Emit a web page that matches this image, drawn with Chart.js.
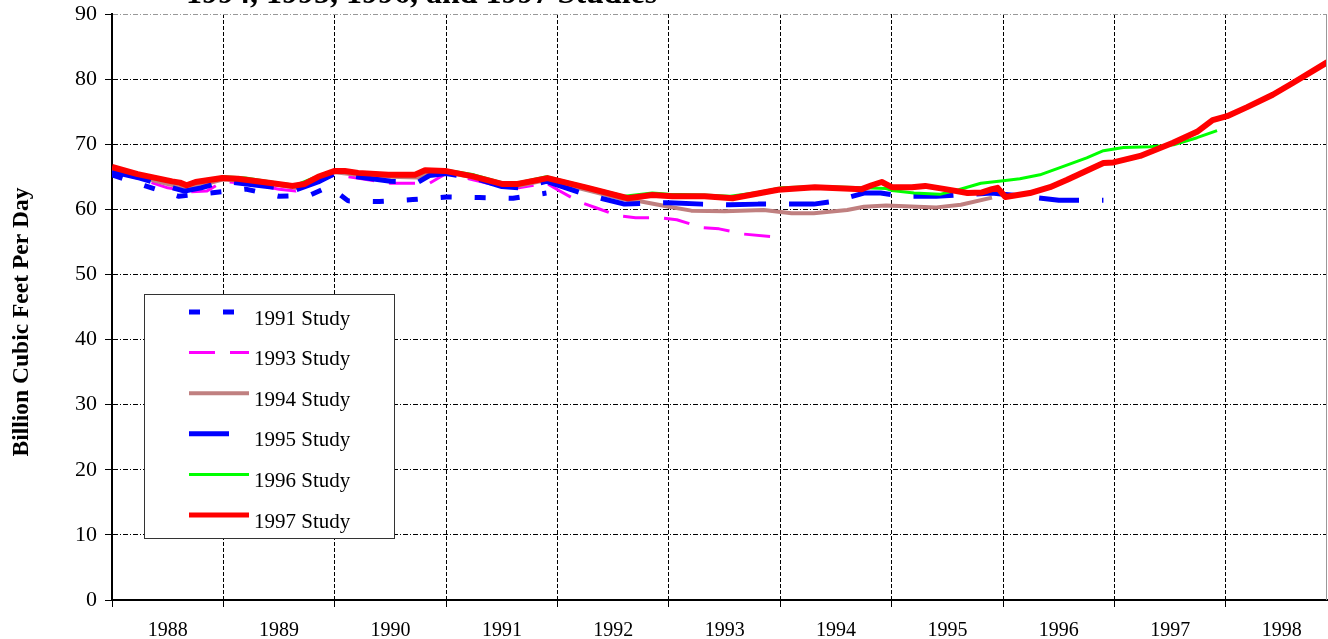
<!DOCTYPE html>
<html>
<head>
<meta charset="utf-8">
<script src="https://cdn.jsdelivr.net/npm/chart.js@4.4.1/dist/chart.umd.min.js"></script>
<style>
  html, body { margin: 0; padding: 0; background: #fff; overflow: hidden; }
  canvas { display: block; }
</style>
</head>
<body>
<canvas id="chart" width="1328" height="639"></canvas>
<script>
// Values (decimal year, Bcf/d).
const yearTicks = [1988, 1989, 1990, 1991, 1992, 1993, 1994, 1995, 1996, 1997, 1998];
const studyNames = ['1991 Study', '1993 Study', '1994 Study', '1995 Study', '1996 Study', '1997 Study'];

const study1991Years = [1988.0, 1988.3, 1988.6, 1988.82, 1989.2, 1989.5, 1989.78, 1989.95, 1990.12, 1990.4, 1990.7, 1991.0, 1991.3, 1991.6, 1991.9];
const study1991Values = [65.3, 63.6, 62.0, 62.4, 63.1, 62.0, 62.2, 63.5, 61.3, 61.2, 61.5, 61.9, 61.8, 61.7, 62.5];

const study1993Years = [1988.0, 1988.25, 1988.5, 1988.7, 1988.85, 1989.0, 1989.2, 1989.5, 1989.65, 1989.85, 1990.0, 1990.2, 1990.5, 1990.75, 1990.85, 1991.0, 1991.25, 1991.5, 1991.65, 1991.9, 1992.0, 1992.2, 1992.35, 1992.55, 1992.7, 1992.92, 1993.07, 1993.3, 1993.45, 1993.67, 1993.92];
const study1993Values = [65.8, 64.7, 63.3, 62.7, 62.8, 64.3, 64.0, 63.1, 62.8, 64.3, 65.3, 64.8, 64.0, 64.0, 64.0, 65.5, 64.5, 63.5, 63.3, 64.0, 63.0, 61.1, 60.2, 59.0, 58.7, 58.7, 58.4, 57.2, 57.0, 56.2, 55.8];

const study1994Years = [1988.0, 1988.25, 1988.5, 1988.65, 1988.8, 1989.0, 1989.2, 1989.5, 1989.65, 1989.85, 1990.0, 1990.2, 1990.5, 1990.75, 1990.85, 1991.0, 1991.25, 1991.5, 1991.65, 1991.9, 1992.25, 1992.6, 1992.75, 1993.0, 1993.2, 1993.5, 1993.85, 1994.1, 1994.3, 1994.6, 1994.75, 1994.95, 1995.4, 1995.62, 1995.9];
const study1994Values = [66.0, 65.0, 63.9, 63.4, 63.7, 64.6, 64.4, 63.7, 63.3, 64.7, 65.7, 65.3, 65.0, 64.9, 65.6, 65.7, 64.9, 63.7, 63.6, 64.5, 63.0, 61.5, 61.2, 60.4, 59.8, 59.7, 59.9, 59.4, 59.4, 59.9, 60.4, 60.6, 60.3, 60.7, 61.8];

const study1995Years = [1988.0, 1988.25, 1988.5, 1988.65, 1988.8, 1989.0, 1989.5, 1989.65, 1989.85, 1990.0, 1990.2, 1990.5, 1990.75, 1990.85, 1991.0, 1991.25, 1991.5, 1991.65, 1991.9, 1992.25, 1992.6, 1992.85, 1993.0, 1993.3, 1993.55, 1993.8, 1994.0, 1994.3, 1994.5, 1994.75, 1994.9, 1995.1, 1995.4, 1995.6, 1995.9, 1996.0, 1996.25, 1996.5, 1996.9];
const study1995Values = [65.8, 64.8, 63.5, 62.8, 63.3, 64.3, 63.3, 63.0, 64.2, 65.5, 65.0, 64.3, 64.2, 65.2, 65.5, 64.8, 63.5, 63.3, 64.3, 62.3, 60.8, 61.0, 61.0, 60.8, 60.7, 60.8, 60.8, 60.8, 61.3, 62.5, 62.5, 62.0, 62.0, 62.2, 62.5, 62.3, 61.9, 61.4, 61.4];

const study1996Years = [1988.0, 1988.25, 1988.5, 1988.65, 1988.8, 1989.0, 1989.2, 1989.5, 1989.65, 1989.85, 1990.0, 1990.2, 1990.5, 1990.75, 1990.85, 1991.0, 1991.25, 1991.5, 1991.65, 1991.9, 1992.25, 1992.6, 1992.85, 1993.0, 1993.3, 1993.55, 1993.8, 1994.0, 1994.35, 1994.75, 1994.95, 1995.0, 1995.2, 1995.43, 1995.6, 1995.8, 1996.0, 1996.15, 1996.33, 1996.51, 1996.75, 1996.9, 1997.08, 1997.32, 1997.53, 1997.74, 1997.92];
const study1996Values = [66.3, 65.3, 64.3, 63.8, 64.3, 65.0, 64.8, 64.0, 63.7, 65.1, 66.0, 65.7, 65.4, 65.4, 66.1, 66.0, 65.3, 64.1, 64.1, 65.0, 63.5, 62.0, 62.5, 62.3, 62.2, 62.0, 62.6, 63.3, 63.5, 63.3, 63.2, 62.9, 62.5, 62.3, 63.0, 64.0, 64.4, 64.7, 65.3, 66.4, 67.9, 69.0, 69.5, 69.6, 69.9, 71.0, 72.1];

const study1997Years = [1988.0, 1988.23, 1988.54, 1988.61, 1988.67, 1988.75, 1988.99, 1989.13, 1989.44, 1989.62, 1989.73, 1989.85, 1990.0, 1990.09, 1990.21, 1990.48, 1990.72, 1990.81, 1990.99, 1991.23, 1991.5, 1991.64, 1991.91, 1992.27, 1992.63, 1992.85, 1993.03, 1993.32, 1993.57, 1993.98, 1994.31, 1994.73, 1994.82, 1994.91, 1995.0, 1995.18, 1995.3, 1995.48, 1995.68, 1995.81, 1995.9, 1995.95, 1996.02, 1996.24, 1996.42, 1996.57, 1996.72, 1996.9, 1996.99, 1997.23, 1997.52, 1997.74, 1997.88, 1998.01, 1998.19, 1998.42, 1998.6, 1998.91];
const study1997Values = [66.5, 65.4, 64.3, 64.1, 63.7, 64.2, 64.8, 64.7, 64.0, 63.6, 63.9, 65.0, 65.9, 65.9, 65.6, 65.3, 65.3, 66.0, 65.9, 65.1, 63.9, 63.9, 64.8, 63.3, 61.7, 62.2, 62.0, 62.0, 61.7, 63.0, 63.4, 63.1, 63.7, 64.2, 63.4, 63.4, 63.6, 63.1, 62.5, 62.6, 63.1, 63.3, 61.9, 62.5, 63.4, 64.5, 65.7, 67.1, 67.2, 68.2, 70.2, 71.9, 73.7, 74.3, 75.7, 77.6, 79.4, 82.6];

const SERIF = '"Liberation Serif", "Times New Roman", "DejaVu Serif", serif';

function points(xs, ys) { return xs.map((x, i) => ({ x: x, y: ys[i] })); }

// order: lower number is painted on top
const datasets = [
  { label: studyNames[0], data: points(study1991Years, study1991Values), borderColor: '#0000ff', borderWidth: 5, borderDash: [11, 23], order: 5 },
  { label: studyNames[1], data: points(study1993Years, study1993Values), borderColor: '#ff00ff', borderWidth: 3, borderDash: [26, 15], order: 4 },
  { label: studyNames[2], data: points(study1994Years, study1994Values), borderColor: '#c08080', borderWidth: 4, order: 3 },
  { label: studyNames[3], data: points(study1995Years, study1995Values), borderColor: '#0000ff', borderWidth: 5, borderDash: [40, 23], order: 2 },
  { label: studyNames[4], data: points(study1996Years, study1996Values), borderColor: '#00ff00', borderWidth: 3, order: 1 },
  { label: studyNames[5], data: points(study1997Years, study1997Values), borderColor: '#ff0000', borderWidth: 6, order: 0 }
].map(d => Object.assign({ pointRadius: 0, tension: 0, fill: false, borderCapStyle: 'butt', borderJoinStyle: 'round' }, d));

// Legend box inside the plot, like the original.
const boxLegend = {
  id: 'boxLegend',
  afterDatasetsDraw(chart) {
    const ctx = chart.ctx;
    ctx.save();
    ctx.fillStyle = '#fff';
    ctx.fillRect(144, 294, 250, 244);
    ctx.strokeStyle = '#333';
    ctx.lineWidth = 1;
    ctx.strokeRect(144.5, 294.5, 250, 244);
    ctx.font = '21px ' + SERIF;
    ctx.textBaseline = 'middle';
    ctx.fillStyle = '#000';
    chart.data.datasets.forEach((ds, i) => {
      const y = 312 + i * 40.6;
      ctx.save();
      ctx.beginPath();
      ctx.rect(189, y - 10, 60, 20);
      ctx.clip();
      ctx.strokeStyle = ds.borderColor;
      ctx.lineWidth = Math.min(ds.borderWidth, 5);
      ctx.setLineDash(ds.borderDash || []);
      ctx.beginPath();
      ctx.moveTo(189, y);
      ctx.lineTo(249, y);
      ctx.stroke();
      ctx.restore();
      ctx.fillText(ds.label, 254, y + 7);
    });
    ctx.restore();
  }
};

// Cut-off title line at the top, the y-axis caption and the grey right edge.
const frame = {
  id: 'frame',
  afterDraw(chart) {
    const ctx = chart.ctx, a = chart.chartArea;
    ctx.save();
    ctx.strokeStyle = '#999';
    ctx.lineWidth = 1;
    ctx.beginPath();
    ctx.moveTo(a.right - 0.5, a.top);
    ctx.lineTo(a.right - 0.5, a.bottom);
    ctx.stroke();
    ctx.fillStyle = '#000';
    ctx.font = 'bold 32px ' + SERIF;
    ctx.textBaseline = 'alphabetic';
    ctx.textAlign = 'left';
    ctx.fillText('1994, 1995, 1996, and 1997 Studies', 186, 3);

    ctx.translate(28, 322);
    ctx.rotate(-Math.PI / 2);
    ctx.font = 'bold 23.5px ' + SERIF;
    ctx.textAlign = 'center';
    ctx.fillText('Billion Cubic Feet Per Day', 0, 0);
    ctx.restore();
  }
};

new Chart(document.getElementById('chart'), {
  type: 'line',
  data: { datasets: datasets },
  options: {
    responsive: false,
    animation: false,
    events: [],
    layout: { padding: { top: 14, right: 1, left: 0, bottom: 0 } },
    plugins: { legend: { display: false }, tooltip: { enabled: false } },
    scales: {
      x: {
        type: 'linear',
        min: 1988,
        max: 1998.907,
        afterBuildTicks: s => { s.ticks = yearTicks.map(v => ({ value: v })); },
        afterFit: s => { s.height = 39; s.paddingLeft = 0; s.paddingRight = 0; },
        ticks: {
          callback: v => String(v),
          labelOffset: 55.7,
          autoSkip: false,
          maxRotation: 0,
          padding: 12,
          color: '#000',
          font: { family: SERIF, size: 20 }
        },
        grid: { color: '#000', lineWidth: 1, tickLength: 7, tickColor: '#000', tickBorderDash: [] },
        border: { display: true, color: '#000', width: 2, dash: [4, 2] }
      },
      y: {
        min: 0,
        max: 90,
        afterFit: s => { s.width = 112; s.paddingTop = 0; s.paddingBottom = 0; },
        ticks: {
          stepSize: 10,
          padding: 8,
          color: '#000',
          font: { family: SERIF, size: 22 }
        },
        grid: {
          color: c => (c.tick && c.tick.value === 90 ? '#999' : '#000'),
          lineWidth: 1, tickLength: 7, tickColor: '#000', tickBorderDash: []
        },
        border: { display: true, color: '#000', width: 2, dash: [5, 2, 1, 2] }
      }
    }
  },
  plugins: [boxLegend, frame]
});
</script>
</body>
</html>
